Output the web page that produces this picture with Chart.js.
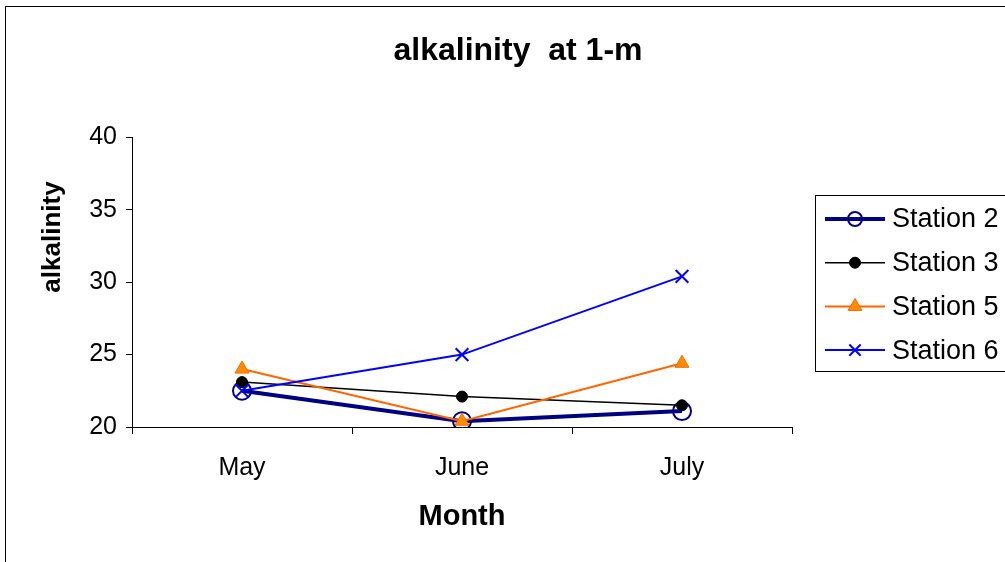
<!DOCTYPE html>
<html>
<head>
<meta charset="utf-8">
<title>alkalinity at 1-m</title>
<script src="https://cdn.jsdelivr.net/npm/chart.js@4.4.1/dist/chart.umd.min.js"></script>
<style>
  html, body { margin: 0; padding: 0; background: #ffffff; }
  #wrap { width: 1005px; height: 562px; }
</style>
</head>
<body>
<div id="wrap"><canvas id="chart" width="1005" height="562"></canvas></div>
<script>
// Monthly alkalinity readings at 1 m depth
const months = ['May', 'June', 'July'];
const station2 = [22.5, 20.4, 21.1];
const station3 = [23.1, 22.1, 21.5];
const station5 = [24.0, 20.4, 24.4];
const station6 = [22.5, 25.0, 30.4];
const seriesNames = ['Station 2', 'Station 3', 'Station 5', 'Station 6'];
const yTicks = [20, 25, 30, 35, 40];

const FONT = "'Liberation Sans', Arial, Helvetica, sans-serif";

// Outer frame around the whole chart
const framePlugin = {
  id: 'frame',
  beforeDraw(chart) {
    const ctx = chart.ctx;
    ctx.save();
    ctx.fillStyle = '#ffffff';
    ctx.fillRect(0, 0, chart.width, chart.height);
    ctx.strokeStyle = '#000000';
    ctx.lineWidth = 1;
    ctx.strokeRect(5.5, 6.5, 1200, 1200);
    ctx.restore();
  }
};

// Vertical axis title, placed a little above the middle of the plot
const yTitlePlugin = {
  id: 'yTitle',
  afterDraw(chart) {
    const ctx = chart.ctx;
    ctx.save();
    ctx.translate(53, 237);
    ctx.rotate(-Math.PI / 2);
    ctx.fillStyle = '#000000';
    ctx.font = 'bold 26px ' + FONT;
    ctx.textAlign = 'center';
    ctx.textBaseline = 'middle';
    ctx.fillText('alkalinity', 0, 0);
    ctx.restore();
  }
};

// Boxed legend at the right, each entry showing the series line and marker
const boxLegendPlugin = {
  id: 'boxLegend',
  afterDraw(chart) {
    const ctx = chart.ctx;
    const left = 815, top = 195, rowTop = 219, rowGap = 43.7;
    ctx.save();
    ctx.strokeStyle = '#000000';
    ctx.lineWidth = 1;
    ctx.strokeRect(left + 0.5, top + 0.5, 300, 176);
    chart.data.datasets.forEach((ds, i) => {
      const y = rowTop + i * rowGap;
      ctx.beginPath();
      ctx.strokeStyle = ds.borderColor;
      ctx.lineWidth = ds.borderWidth;
      ctx.moveTo(825, y);
      ctx.lineTo(885, y);
      ctx.stroke();
      ctx.fillStyle = ds.pointBackgroundColor;
      ctx.strokeStyle = ds.pointBorderColor;
      ctx.lineWidth = ds.pointBorderWidth;
      Chart.helpers.drawPoint(ctx, {
        pointStyle: ds.pointStyle,
        radius: ds.legendRadius,
        borderWidth: ds.pointBorderWidth,
        rotation: 0
      }, 855, y);
      ctx.fillStyle = '#000000';
      ctx.font = '27px ' + FONT;
      ctx.textBaseline = 'middle';
      ctx.textAlign = 'left';
      ctx.fillText(ds.label, 892, y + 1);
    });
    ctx.restore();
  }
};

const data = {
  labels: months,
  datasets: [
    {
      label: seriesNames[0], data: station2, order: 4,
      borderColor: '#000080', borderWidth: 4,
      pointStyle: 'circle', pointRadius: 9, legendRadius: 7,
      pointBackgroundColor: 'rgba(255,255,255,0)', pointBorderColor: '#000080', pointBorderWidth: 2
    },
    {
      label: seriesNames[1], data: station3, order: 3,
      borderColor: '#000000', borderWidth: 1.5,
      pointStyle: 'circle', pointRadius: 5.5, legendRadius: 5.5,
      pointBackgroundColor: '#000000', pointBorderColor: '#000000', pointBorderWidth: 1
    },
    {
      label: seriesNames[2], data: station5, order: 2,
      borderColor: '#FF6600', borderWidth: 2,
      pointStyle: 'triangle', pointRadius: 8, legendRadius: 8,
      pointBackgroundColor: '#FF8C00', pointBorderColor: '#FF6600', pointBorderWidth: 1
    },
    {
      label: seriesNames[3], data: station6, order: 1,
      borderColor: '#0000FF', borderWidth: 2,
      pointStyle: 'crossRot', pointRadius: 9, legendRadius: 8,
      pointBackgroundColor: '#0000FF', pointBorderColor: '#0000FF', pointBorderWidth: 2
    }
  ]
};
data.datasets.forEach(ds => {
  ds.fill = false;
  ds.tension = 0;
  ds.pointHoverRadius = ds.pointRadius;
});

new Chart(document.getElementById('chart'), {
  type: 'line',
  data,
  options: {
    responsive: false,
    animation: false,
    devicePixelRatio: 1,
    layout: { padding: { left: 31, right: 0, top: 0, bottom: 0 } },
    plugins: {
      legend: { display: false },
      tooltip: { enabled: false },
      title: {
        display: true,
        text: 'alkalinity  at 1-m',
        color: '#000000',
        font: { family: FONT, size: 32, weight: 'bold' },
        padding: { top: 32, bottom: 67 }
      }
    },
    scales: {
      x: {
        offset: true,
        grid: {
          offset: true, drawOnChartArea: false, drawTicks: true,
          tickLength: 7, tickColor: '#000000', tickWidth: 1
        },
        border: { display: true, color: '#000000', width: 1 },
        ticks: { color: '#000000', font: { family: FONT, size: 25 }, padding: 19, maxRotation: 0 },
        title: {
          display: true, text: 'Month', color: '#000000',
          font: { family: FONT, size: 29, weight: 'bold' },
          padding: { top: 0, bottom: 28 }
        },
        afterFit(scale) { scale.height = 135; }
      },
      y: {
        min: 20, max: 40,
        afterBuildTicks(scale) { scale.ticks = yTicks.map(v => ({ value: v })); },
        grid: {
          drawOnChartArea: false, drawTicks: true,
          tickLength: 6, tickColor: '#000000', tickWidth: 1
        },
        border: { display: true, color: '#000000', width: 1 },
        ticks: { color: '#000000', font: { family: FONT, size: 25 }, padding: 9 },
        afterFit(scale) { scale.width = 101; }
      },
      // empty strip on the right that holds the legend
      legendSpace: {
        type: 'linear',
        position: 'right',
        display: true,
        grid: { display: false, drawTicks: false },
        border: { display: false },
        ticks: { display: false },
        afterFit(scale) { scale.width = 213; }
      }
    }
  },
  plugins: [framePlugin, yTitlePlugin, boxLegendPlugin]
});
</script>
</body>
</html>
